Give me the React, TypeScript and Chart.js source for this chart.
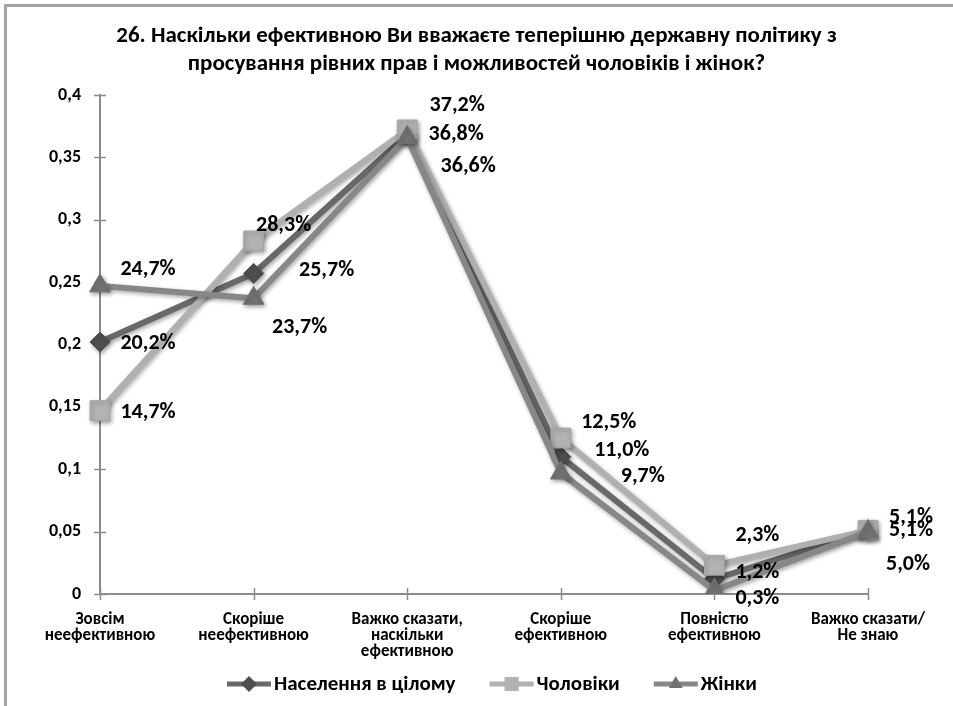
import React, { useEffect, useRef } from "react";
import { Chart, registerables } from "chart.js";

Chart.register(...registerables);

const FONT = "Carlito, Lato, 'Open Sans', sans-serif";

const titleLines = [
  "26. Наскільки ефективною Ви вважаєте теперішню державну політику з",
  "просування рівних прав і можливостей чоловіків і жінок?",
];

const categories = [
  ["Зовсім", "неефективною"],
  ["Скоріше", "неефективною"],
  ["Важко сказати,", "наскільки", "ефективною"],
  ["Скоріше", "ефективною"],
  ["Повністю", "ефективною"],
  ["Важко сказати/", "Не знаю"],
];

const seriesNames = ["Населення в цілому", "Чоловіки", "Жінки"];
const population = [0.202, 0.257, 0.368, 0.11, 0.012, 0.051];
const men = [0.147, 0.283, 0.372, 0.125, 0.023, 0.051];
const women = [0.247, 0.237, 0.366, 0.097, 0.003, 0.05];

const yTicks = [0, 0.05, 0.1, 0.15, 0.2, 0.25, 0.3, 0.35, 0.4];

// label placement (dx, dy relative to the point), per series / per point
const labelOffsets = [
  [[48, 1], [73, -3], [49, 0], [61, -6], [43, -7], [43, 0]],
  [[48, 2], [30, -15], [50, -24], [48, -16], [43, -30], [43, -13]],
  [[48, -16], [46, 29], [61, 29], [82, 4], [43, 8], [40, 33]],
];

const lineColors = ["#686868", "#b0b0b0", "#878787"];
const pointColors = ["#4f4f4f", "#b3b3b3", "#727272"];
const pointBorders = ["#4f4f4f", "#a5a5a5", "#727272"];
const pointStyles = ["rectRot", "rect", "triangle"];
const pointRadii = [10, 14, 12];

const fmtPct = (v: number) => (v * 100).toFixed(1).replace(".", ",") + "%";
const fmtTick = (v: number) => String(parseFloat(v.toFixed(2))).replace(".", ",");

function drawMarker(ctx: CanvasRenderingContext2D, style: string, x: number, y: number, r: number) {
  ctx.beginPath();
  if (style === "rectRot") {
    ctx.moveTo(x - r, y);
    ctx.lineTo(x, y - r);
    ctx.lineTo(x + r, y);
    ctx.lineTo(x, y + r);
  } else if (style === "rect") {
    const s = r * Math.SQRT1_2;
    ctx.rect(x - s, y - s, 2 * s, 2 * s);
  } else {
    ctx.moveTo(x, y - r);
    ctx.lineTo(x + r * 0.866, y + r * 0.5);
    ctx.lineTo(x - r * 0.866, y + r * 0.5);
  }
  ctx.closePath();
  ctx.fill();
}

const decorPlugin = {
  id: "decor",
  beforeDraw(chart: any) {
    const ctx = chart.ctx as CanvasRenderingContext2D;
    ctx.save();
    ctx.fillStyle = "#ffffff";
    ctx.fillRect(0, 0, chart.width, chart.height);
    ctx.strokeStyle = "#a3a3a3";
    ctx.lineWidth = 3;
    ctx.strokeRect(5.5, 5.5, chart.width + 20, chart.height + 20);
    ctx.fillStyle = "#000";
    ctx.font = `bold 23px ${FONT}`;
    ctx.textAlign = "center";
    ctx.textBaseline = "middle";
    titleLines.forEach((t, i) => ctx.fillText(t, chart.width / 2, 36 + i * 28));
    ctx.restore();
  },
  beforeDatasetsDraw(chart: any) {
    const ctx = chart.ctx as CanvasRenderingContext2D;
    const xs = chart.scales.x;
    const ys = chart.scales.y;
    ctx.save();
    ctx.strokeStyle = "#8c8c8c";
    ctx.lineWidth = 1.5;
    ctx.beginPath();
    yTicks.forEach((t) => {
      const y = Math.round(ys.getPixelForValue(t)) + 0.5;
      ctx.moveTo(xs.left - 6, y);
      ctx.lineTo(xs.left + 6, y);
    });
    categories.forEach((_, i) => {
      const x = Math.round(xs.getPixelForValue(i)) + 0.5;
      ctx.moveTo(x, ys.bottom - 6);
      ctx.lineTo(x, ys.bottom + 6);
    });
    ctx.stroke();
    ctx.restore();
  },
  beforeDatasetDraw(chart: any) {
    const ctx = chart.ctx as CanvasRenderingContext2D;
    ctx.save();
    ctx.shadowColor = "rgba(0,0,0,0.35)";
    ctx.shadowBlur = 4;
    ctx.shadowOffsetX = 1.5;
    ctx.shadowOffsetY = 2;
  },
  afterDatasetDraw(chart: any) {
    chart.ctx.restore();
  },
  afterDatasetsDraw(chart: any) {
    const ctx = chart.ctx as CanvasRenderingContext2D;
    ctx.save();
    // data labels
    ctx.fillStyle = "#000";
    ctx.font = `bold 22px ${FONT}`;
    ctx.textAlign = "center";
    ctx.textBaseline = "middle";
    chart.data.datasets.forEach((ds: any, i: number) => {
      const meta = chart.getDatasetMeta(i);
      meta.data.forEach((el: any, j: number) => {
        const off = labelOffsets[i][j];
        ctx.fillText(fmtPct(ds.data[j]), el.x + off[0], el.y + off[1]);
      });
    });
    // legend
    ctx.font = `bold 21px ${FONT}`;
    ctx.textAlign = "left";
    const lineW = 44;
    const gapLT = 3;
    const gapItems = 34;
    let x = 227;
    const y = 684;
    chart.data.datasets.forEach((ds: any, i: number) => {
      ctx.strokeStyle = lineColors[i];
      ctx.lineWidth = 5;
      ctx.beginPath();
      ctx.moveTo(x, y);
      ctx.lineTo(x + lineW, y);
      ctx.stroke();
      ctx.fillStyle = pointColors[i];
      drawMarker(ctx, pointStyles[i], x + lineW / 2, y, i === 1 ? 10 : 8);
      ctx.fillStyle = "#000";
      const tx = x + lineW + gapLT;
      ctx.fillText(ds.label, tx, y + 1);
      x = tx + ctx.measureText(ds.label).width + gapItems;
    });
    ctx.restore();
  },
};

export default function App() {
  const ref = useRef<HTMLCanvasElement | null>(null);
  useEffect(() => {
    if (!ref.current) return;
    const seriesData = [population, men, women];
    const chart = new Chart(ref.current, {
      type: "line",
      data: {
        labels: categories,
        datasets: seriesNames.map((name, i) => ({
          label: name,
          data: seriesData[i],
          borderColor: lineColors[i],
          backgroundColor: pointColors[i],
          borderWidth: 6,
          pointStyle: pointStyles[i] as any,
          pointRadius: pointRadii[i],
          pointBackgroundColor: pointColors[i],
          pointBorderColor: pointBorders[i],
          pointBorderWidth: 1,
          tension: 0,
          fill: false,
          order: 3 - i,
        })),
      },
      options: {
        animation: false,
        responsive: false,
        maintainAspectRatio: false,
        layout: { padding: { left: 0, right: 85, top: 95, bottom: 0 } },
        plugins: {
          legend: { display: false },
          title: { display: false },
          tooltip: { enabled: false },
        },
        scales: {
          x: {
            type: "category",
            offset: false,
            grid: { display: false, drawTicks: false },
            border: { display: true, color: "#8c8c8c", width: 2 },
            ticks: {
              color: "#000",
              font: { family: FONT, size: 17, weight: "bold", lineHeight: "16px" },
              padding: 18,
              maxRotation: 0,
              autoSkip: false,
            },
            afterFit: (s: any) => {
              s.height = 112;
            },
          },
          y: {
            min: 0,
            max: 0.4,
            grid: { display: false, drawTicks: false },
            border: { display: true, color: "#8c8c8c", width: 2 },
            ticks: {
              stepSize: 0.05,
              color: "#000",
              font: { family: FONT, size: 18, weight: "bold" },
              padding: 19,
              callback: (v: any) => fmtTick(Number(v)),
            },
            afterFit: (s: any) => {
              s.width = 100;
            },
          },
        },
      },
      plugins: [decorPlugin],
    });
    return () => chart.destroy();
  }, []);
  return (
    <div style={{ position: "fixed", left: 0, top: 0, width: 953, height: 706 }}>
      <canvas ref={ref} width={953} height={706} />
    </div>
  );
}
